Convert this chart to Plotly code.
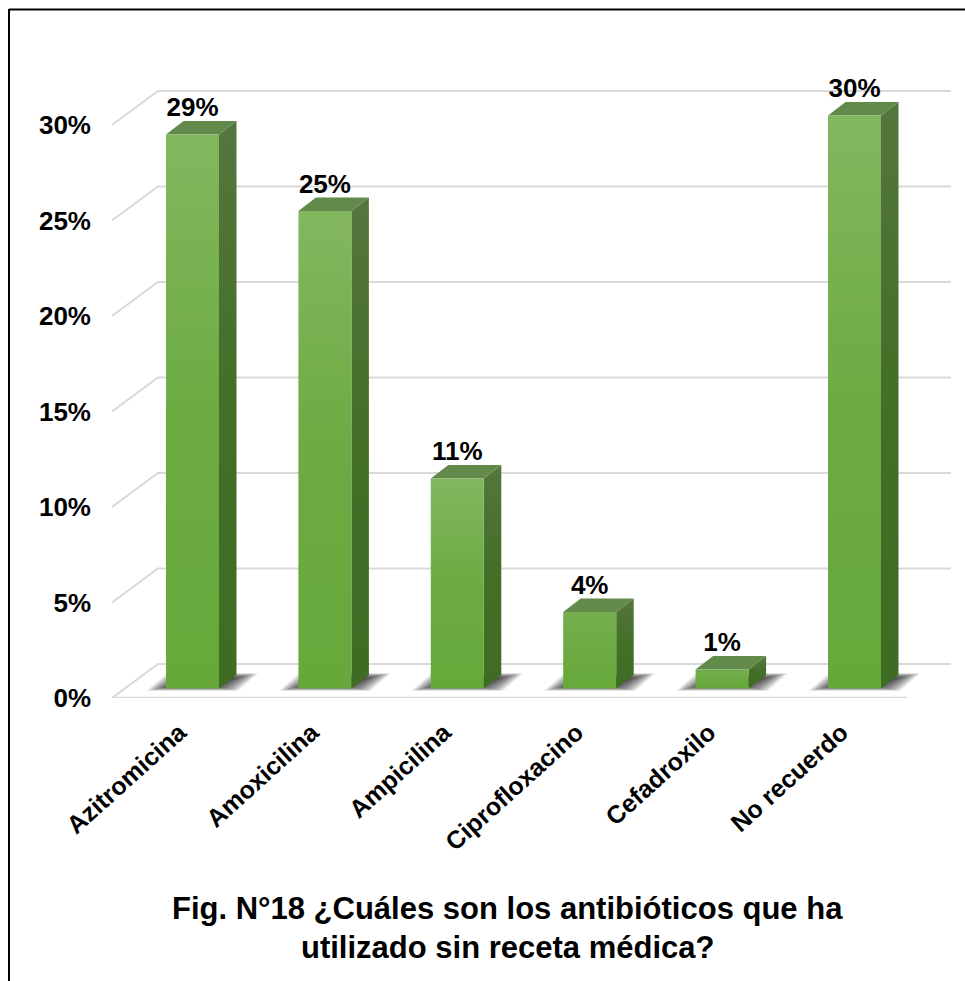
import plotly.graph_objects as go

categories = ["Azitromicina", "Amoxicilina", "Ampicilina", "Ciprofloxacino", "Cefadroxilo", "No recuerdo"]
values = [29, 25, 11, 4, 1, 30]
tick_values = [0, 5, 10, 15, 20, 25, 30]
tick_labels = ["0%", "5%", "10%", "15%", "20%", "25%", "30%"]
title_lines = ["Fig. N°18 ¿Cuáles son los antibióticos que ha", "utilizado sin receta médica?"]

W, H = 965, 981
ML, MR, MT, MB = 112, 0, 50, 283
PX_CAT, PX_VAL = 132.4, 19.1       # pixels per category / per percentage point
X0_PX = 192.5                      # pixel of first category
FONT = "Liberation Sans, Arial, sans-serif"
GRID = "#d9d9d9"

xr = [(ML - X0_PX) / PX_CAT, (W - MR - X0_PX) / PX_CAT]
yr = [0, (H - MB - MT) / PX_VAL]

def ox(px):
    return px / PX_CAT
def oy(px):
    return px / PX_VAL

half = ox(26.5)
front_lift = oy(9.5)
depth_x, depth_y = ox(17.5), oy(13.5)
wall_x, wall_y = ox(46), oy(34)
wall_right = ox(44)

fig = go.Figure()

def line(xs, ys, width=2):
    fig.add_trace(go.Scatter(x=xs, y=ys, mode="lines", line=dict(color=GRID, width=width),
                             hoverinfo="skip", showlegend=False, cliponaxis=False))

# back wall grid and left-side diagonals, from the axis ticks
x_left = xr[0]
x_right_front = len(categories) - 1 + ox(907 - (X0_PX + 5 * PX_CAT))
for t in tick_values:
    line([x_left, x_left + wall_x, x_right_front + wall_right], [t, t + wall_y, t + wall_y])
line([x_left, x_right_front], [0, 0], 2.5)

def poly(xs, ys, **kw):
    fig.add_trace(go.Scatter(x=xs + xs[:1], y=ys + ys[:1], mode="lines", fill="toself",
                             line=dict(width=0), hoverinfo="skip", showlegend=False,
                             cliponaxis=False, **kw))

def grad(top, mid, bottom):
    return dict(type="vertical", colorscale=[[0, bottom], [0.5, mid], [1, top]])

# floor shadows: stacked soft layers, largest first, with a gentle fade at the rim
for i, _ in enumerate(values):
    for k in range(24):
        g = 13 - k * 1.1
        xa = i - ox(33) - ox(g)
        xb = i + ox(33) + ox(g)
        sk = ox(20)
        yb = front_lift + oy(0.5) - oy(g * 0.22)
        yt = front_lift + oy(12.5) + oy(g * 0.22)
        poly([xa, xb, xb + sk, xa + sk], [yb, yb, yt, yt], fillcolor="rgba(25,25,25,0.055)")

# 3-D bars
for i, v in enumerate(values):
    base = front_lift
    top = v + front_lift
    xl, xr_b = i - half, i + half
    poly([xr_b, xr_b + depth_x, xr_b + depth_x, xr_b], [base, base + depth_y, top + depth_y, top],
         fillgradient=grad("#55763e", "#436f27", "#3e6c23"), fillcolor="#4a7030")
    poly([xl, xr_b, xr_b + depth_x, xl + depth_x], [top, top, top + depth_y, top + depth_y],
         fillcolor="#628a4b")
    poly([xl, xr_b, xr_b, xl], [base, base, top, top],
         fillgradient=grad("#83b75f" if v > 5 else "#74ae4e", "#6cab42", "#66a83a"), fillcolor="#70ad47")

# data labels
fig.add_trace(go.Scatter(
    x=list(range(len(values))),
    y=[v + front_lift + depth_y + oy(11.5) for v in values],
    mode="text", text=[f"<b>{v}%</b>" for v in values], textposition="middle center",
    textfont=dict(family=FONT, size=26, color="black"),
    hoverinfo="skip", showlegend=False, cliponaxis=False))

fig.update_layout(
    width=W, height=H, autosize=False,
    margin=dict(l=ML, r=MR, t=MT, b=MB, pad=0),
    paper_bgcolor="white", plot_bgcolor="white", showlegend=False,
    font=dict(family=FONT, color="black"),
    xaxis=dict(range=xr, tickvals=[i - ox(13) for i in range(len(categories))],
               ticktext=[f"<b>{c}</b>" for c in categories], tickangle=-42,
               showgrid=False, zeroline=False, showline=False, ticks="", ticklabelstandoff=14,
               tickfont=dict(family=FONT, size=25, color="black"), automargin=False),
    yaxis=dict(range=yr, tickvals=tick_values, ticktext=[f"<b>{t}</b>" for t in tick_labels],
               showgrid=False, zeroline=False, showline=False, ticks="", ticklabelstandoff=20,
               tickfont=dict(family=FONT, size=26, color="black"), automargin=False),
)

# page frame: top and left rules
PW, PH = W - ML - MR, H - MT - MB
def pxx(p): return (p - ML) / PW
def pxy(p): return 1 - (p - MT) / PH
fig.add_shape(type="line", xref="paper", yref="paper", x0=pxx(9), x1=pxx(965), y0=pxy(9.5), y1=pxy(9.5),
              line=dict(color="black", width=2))
fig.add_shape(type="line", xref="paper", yref="paper", x0=pxx(9), x1=pxx(9), y0=pxy(9), y1=pxy(981),
              line=dict(color="black", width=2))

for text, py in zip(title_lines, [908, 947]):
    fig.add_annotation(text=f"<b>{text}</b>", xref="paper", yref="paper", x=pxx(507), y=pxy(py),
                       showarrow=False, xanchor="center", yanchor="middle",
                       font=dict(family=FONT, size=31, color="black"))

fig.write_html("out.html", config=dict(displayModeBar=False),
               post_script="document.body.style.margin='0';")
